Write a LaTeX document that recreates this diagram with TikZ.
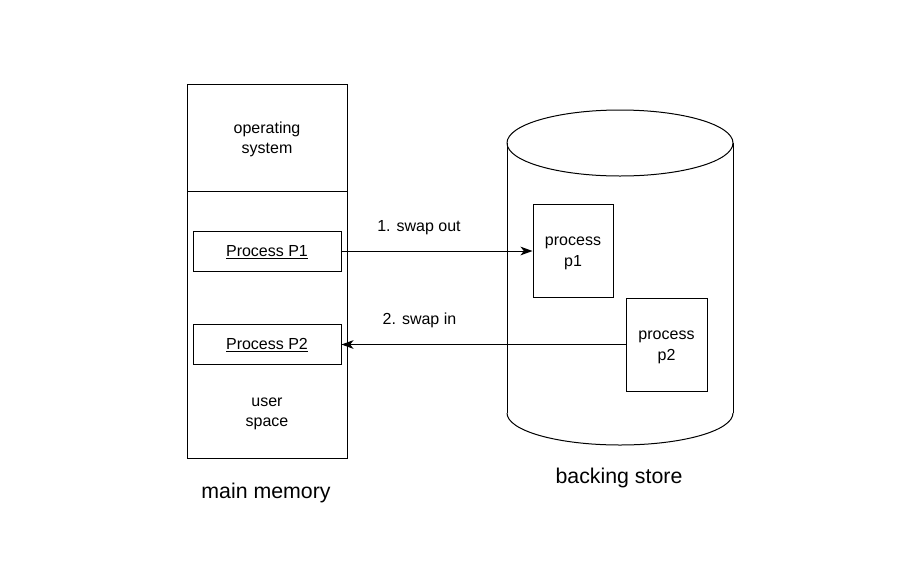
\documentclass[tikz,border=0pt]{standalone}
\usepackage{fontspec}
\setmainfont{Liberation Sans}
\usetikzlibrary{arrows.meta}
\newcommand{\sx}{\rule[-3.75pt]{0pt}{15.5pt}}
\newcommand{\bx}{\rule[-4.5pt]{0pt}{20pt}}
\begin{document}
\begin{tikzpicture}[x=0.75pt,y=-0.75pt,
  box/.style={draw,line width=0.75pt,inner sep=0pt,align=center,font=\fontsize{12pt}{15.5pt}\selectfont},
  lbl/.style={inner sep=0pt,align=center,font=\fontsize{12pt}{15.5pt}\selectfont},
  big/.style={inner sep=0pt,font=\fontsize{16pt}{20pt}\selectfont},
  conn/.style={line width=0.75pt,-{Stealth[length=9pt,width=6.5pt,inset=2.5pt]}}]
\useasboundingbox (0,0) rectangle (898,586);
% main memory
\node[box,minimum width=120pt,minimum height=280.5pt] (mem) at (267,271) {};
\coordinate (divl) at (187,191);
\coordinate (divr) at (347,191);
\draw[line width=0.75pt] (divl) -- (divr);
\node[lbl] (os) at (267,138) {\sx operating\\\sx system};
\node[box,minimum width=111pt,minimum height=30pt] (P1) at (267,251) {\sx\underline{Process P1}};
\node[box,minimum width=111pt,minimum height=30pt] (P2) at (267,344) {\sx\underline{Process P2}};
\node[lbl] (us) at (267,411) {\sx user\\\sx space};
\node[big] (mm) at (266,491) {\bx main memory};
% backing store cylinder
\draw[line width=0.75pt,fill=white] (620,143) ellipse [x radius=113, y radius=33];
\coordinate (ctl) at (507,143);
\coordinate (ctr) at (733,143);
\coordinate (cbl) at (507,413);
\coordinate (cbr) at (733,413);
\draw[line width=0.75pt] (ctl) -- (cbl);
\draw[line width=0.75pt] (ctr) -- (cbr);
\draw[line width=0.75pt] (cbl) arc [start angle=180, end angle=360, x radius=113, y radius=-32];
\node[box,minimum width=60pt,minimum height=69.75pt] (p1) at (573,250.5) {\sx process\\\sx p1};
\node[box,minimum width=60.75pt,minimum height=69.75pt] (p2) at (666.5,344.5) {\sx process\\\sx p2};
\node[big] (bs) at (619,476) {\bx backing store};
% arrows
\draw[conn] (P1.east) -- (P1.east -| p1.west);
\draw[conn] (p2.west) -- (p2.west -| P2.east);
\node[lbl] (l1) at (419,226) {\sx 1. swap out};
\node[lbl] (l2) at (419.5,319) {\sx 2. swap in};
\end{tikzpicture}
\end{document}
